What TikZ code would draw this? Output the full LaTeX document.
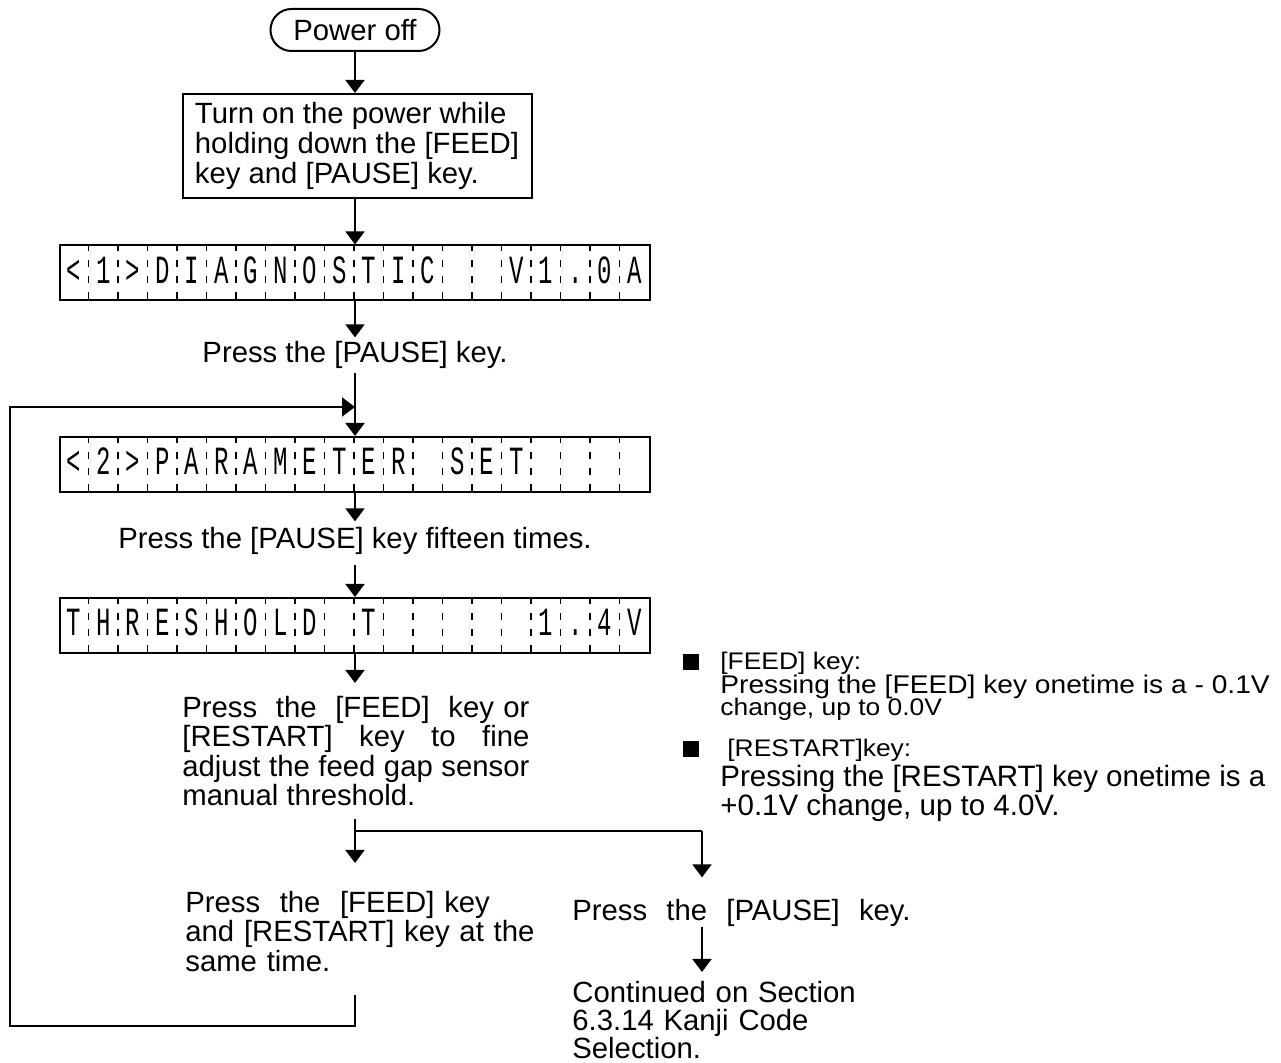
\documentclass[tikz,border=0pt]{standalone}
\usepackage{fontspec}
\setmainfont{Liberation Sans}
\newfontfamily\lcdfont[FakeStretch=0.6]{Liberation Mono}
\newfontfamily\widefont[FakeStretch=1.1]{Liberation Sans}
\usetikzlibrary{arrows.meta,calc}
\newcommand\mainsize{\fontsize{14.65}{14.65}\selectfont}
\newcommand\notesize{\widefont\fontsize{12}{12}\selectfont}
\newcommand\notebig{\fontsize{14.75}{14.75}\selectfont}
\tikzset{
  flow/.style={line width=1pt, -{Triangle[width=9.5pt,length=6.5pt]}},
  plain/.style={line width=1pt},
  terminal/.style={draw, line width=1pt, rounded corners=10.5pt, minimum width=84.5pt,
    minimum height=21pt, font=\mainsize},
  procbox/.style={draw, line width=1pt, inner xsep=6pt, minimum width=174.5pt,
    minimum height=52pt, align=left, font=\fontsize{14.65}{15.2}\selectfont},
  lcdbox/.style={draw, line width=1pt, minimum width=295pt, minimum height=27.5pt, inner sep=0pt},
  lcdchar/.style={anchor=base, inner sep=0pt, font=\lcdfont\fontsize{20}{20}\selectfont},
  lcdsep/.style={line width=0.6pt, dash pattern=on 3.5pt off 4.5pt},
  caption/.style={anchor=base, inner sep=0pt, font=\mainsize},
  textblock/.style={inner sep=0pt, text width=173.5pt, font=\mainsize},
  note/.style={inner sep=0pt, anchor=base west},
  bullet/.style={fill, minimum size=8pt, inner sep=0pt, anchor=south west}
}
\begin{document}
\begin{tikzpicture}[x=0.5pt,y=-0.5pt]
  \useasboundingbox (0,0) rectangle (1281,1063);
  % Cell width of the display
  \def\cw{29.5}

  % Start and first step
  \node[terminal] (poweroff) at (355,30) {Power off};
  \node[procbox] (setup) at (357,146)
    {Turn on the power while\\holding down the [FEED]\\key and [PAUSE] key.};

  % The three display lines
  \foreach \nm/\yc/\txt in {lcda/273/{<,1,>,D,I,A,G,N,O,S,T,I,C, , ,V,1,.,0,A},
      lcdb/464.5/{<,2,>,P,A,R,A,M,E,T,E,R, ,S,E,T, , , , },
      lcdc/625.5/{T,H,R,E,S,H,O,L,D, ,T, , , , , ,1,.,4,V}}{
    \node[lcdbox] (\nm) at (355,\yc) {};
    \foreach \ch [count=\k] in \txt
      \node[lcdchar] at ($(\nm.west)+(\k*\cw-\cw/2,10.5)$) {\ch};
    \foreach \k in {1,...,19}
      \draw[lcdsep] ($(\nm.north west)+(\k*\cw,0)$) -- ($(\nm.south west)+(\k*\cw,0)$);
  }

  % Key presses
  \node[caption] (pausea) at (355,363) {Press the [PAUSE] key.};
  \node[caption] (fifteen) at (355,549) {Press the [PAUSE] key fifteen times.};
  \node[textblock, align=justify, anchor=north west] (adjust) at (182,696)
    {Press\ \ the\ \ [FEED]\ \ key or\linebreak[4] [RESTART] key to fine\linebreak[4]
     adjust the feed gap sensor manual threshold.};
  \node[textblock, text width=185pt, align=left, anchor=north west] (both) at (185,891)
    {Press\ \ the\ \ [FEED] key\\and [RESTART] key at the\\same time.};
  \node[note, font=\mainsize] (pausec) at (572,921)
    {Press\hspace{9.6pt}the\hspace{9.6pt}[PAUSE]\hspace{9.6pt}key.};
  \node[textblock, align=left, anchor=north west, font=\fontsize{14.65}{14}\selectfont] (cont) at (572,981)
    {Continued on Section\\6.3.14 Kanji Code\\Selection.};

  % Notes on the keys
  \node[bullet] (bula) at (683,670) {};
  \node[note, font=\notesize] (feedkey) at (720,670) {[FEED] key:};
  \node[note, font=\widefont\fontsize{12.8}{12.8}\selectfont] (feedtxt) at (720,694)
    {Pressing the [FEED] key onetime is a - 0.1V};
  \node[note, font=\notesize] (feedlim) at (720,716) {change, up to 0.0V};
  \node[bullet] (bulb) at (683,757) {};
  \node[note, font=\notesize] (restartkey) at (727,757) {[RESTART]key:};
  \node[note, font=\notebig] (restarttxt) at (720,787)
    {Pressing the [RESTART] key onetime is a};
  \node[note, font=\notebig] (restartlim) at (720,816) {+0.1V change, up to 4.0V.};

  % Main flow
  \draw[flow] (poweroff) -- (setup.north -| poweroff);
  \draw[flow] (setup.south -| lcda) -- (lcda);
  \draw[flow, shorten >=2pt] (lcda) -- (pausea);
  \draw[flow, shorten <=2pt] (pausea) -- (lcdb);
  \draw[flow, shorten >=3pt] (lcdb) -- (fifteen);
  \draw[flow, shorten <=5pt] (fifteen) -- (lcdc);
  \draw[flow] (lcdc) -- (lcdc |- adjust.north) [shorten >=6.5pt];
  \draw[flow, shorten <=6.5pt, shorten >=14pt] (adjust.south -| lcdc) -- (lcdc |- both.north);

  % Branch to the right
  \coordinate (fork) at (355,831);
  \coordinate (rturn) at (702,831);
  \draw[plain] (fork) -- (rturn);
  \draw[flow, shorten >=11pt] (rturn) -- (rturn |- pausec.north);
  \draw[flow, shorten >=4.5pt] (rturn |- pausec.south) -- (rturn |- cont.north);

  % Loop back
  \coordinate (loopbl) at (10,1026);
  \coordinate (looptl) at (10,407);
  \draw[flow, shorten <=11.5pt] (both.south -| lcdc) |- (loopbl) -- (looptl) -- (looptl -| lcdb.north);
\end{tikzpicture}
\end{document}
